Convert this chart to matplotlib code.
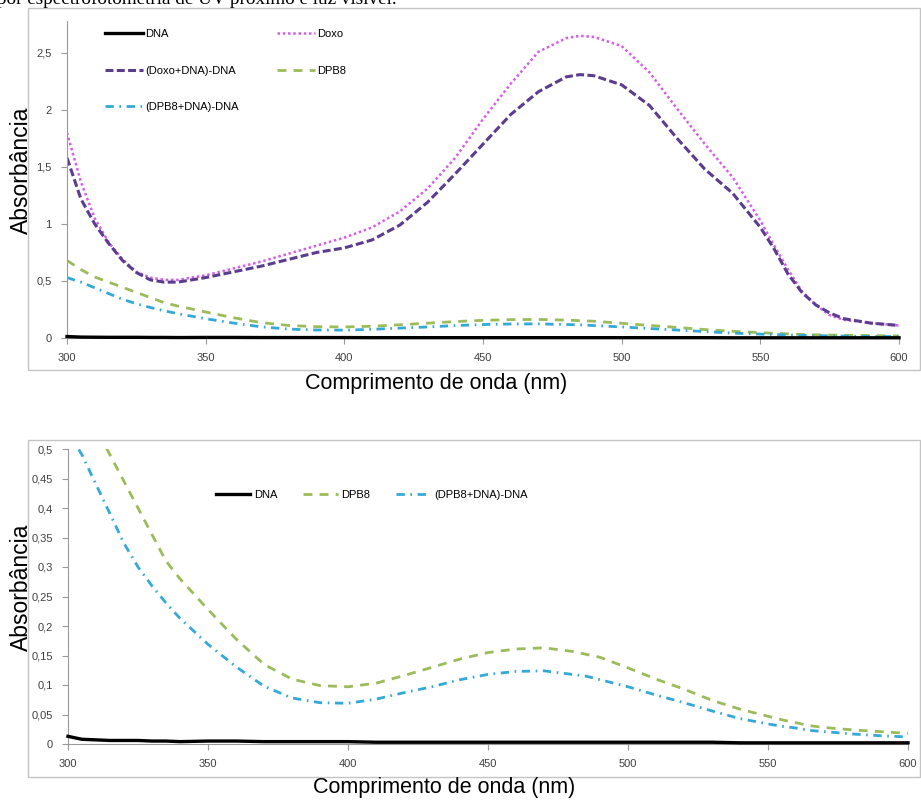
import matplotlib
matplotlib.use("Agg")
import matplotlib.pyplot as plt
from matplotlib.patches import Rectangle
from matplotlib.ticker import FuncFormatter

plt.rcParams['font.family'] = ['Liberation Sans', 'DejaVu Sans']

# wavelength (nm)
wl = [300, 305, 310, 315, 320, 325, 330, 335, 340, 350, 360, 370, 380, 390,
      400, 410, 420, 430, 440, 450, 460, 470, 480, 485, 490, 500, 510, 520,
      530, 540, 550, 555, 560, 565, 570, 575, 580, 590, 600]

dna = [0.013, 0.008, 0.007, 0.006, 0.006, 0.006, 0.005, 0.005, 0.004, 0.005,
       0.005, 0.004, 0.004, 0.004, 0.004, 0.003, 0.003, 0.003, 0.003, 0.003,
       0.003, 0.003, 0.003, 0.003, 0.003, 0.003, 0.003, 0.003, 0.003, 0.002,
       0.002, 0.002, 0.002, 0.002, 0.002, 0.002, 0.002, 0.002, 0.002]

doxo = [1.80, 1.37, 1.05, 0.84, 0.69, 0.58, 0.53, 0.51, 0.51, 0.55, 0.61,
        0.67, 0.74, 0.81, 0.88, 0.97, 1.11, 1.31, 1.58, 1.92, 2.23, 2.51,
        2.63, 2.65, 2.64, 2.56, 2.33, 2.01, 1.70, 1.41, 1.03, 0.81, 0.60,
        0.41, 0.29, 0.20, 0.16, 0.13, 0.11]

doxo_dna = [1.58, 1.22, 1.00, 0.83, 0.68, 0.575, 0.51, 0.49, 0.49, 0.53,
            0.58, 0.63, 0.69, 0.75, 0.79, 0.86, 0.99, 1.19, 1.44, 1.70, 1.96,
            2.16, 2.29, 2.31, 2.30, 2.22, 2.04, 1.75, 1.48, 1.27, 0.97, 0.78,
            0.56, 0.40, 0.29, 0.22, 0.17, 0.13, 0.11]

dpb8 = [0.68, 0.60, 0.535, 0.49, 0.445, 0.40, 0.355, 0.31, 0.28, 0.228,
        0.178, 0.135, 0.11, 0.099, 0.097, 0.103, 0.116, 0.130, 0.144, 0.155,
        0.161, 0.163, 0.157, 0.152, 0.147, 0.129, 0.11, 0.093, 0.074, 0.059,
        0.047, 0.041, 0.036, 0.031, 0.028, 0.026, 0.024, 0.021, 0.018]

dpb8_dna = [0.53, 0.49, 0.44, 0.39, 0.34, 0.30, 0.268, 0.239, 0.213, 0.169,
            0.131, 0.098, 0.078, 0.070, 0.069, 0.076, 0.087, 0.097, 0.109,
            0.118, 0.123, 0.124, 0.118, 0.115, 0.109, 0.097, 0.083, 0.070,
            0.056, 0.043, 0.034, 0.030, 0.027, 0.023, 0.021, 0.019, 0.017,
            0.014, 0.012]

W, H = 921, 801
fig = plt.figure(figsize=(W / 100, H / 100), dpi=100)

# cut-off caption line at the very top
fig.text(-3 / W, 1 - 4 / H, "por espectrofotometria de UV próximo e luz visível.",
         family='Liberation Serif', fontsize=13.8, va='baseline', ha='left')

# chart area borders
for y0, y1 in [(8, 370), (440, 777)]:
    fig.patches.append(Rectangle((28 / W, 1 - y1 / H), (920 - 28) / W, (y1 - y0) / H,
                                 transform=fig.transFigure, fill=False,
                                 ec='#c4c4c4', lw=1.0))

c_doxo = '#d45ee6'
c_doxodna = '#5a3d8e'
c_dpb8 = '#9cbb5a'
c_dpb8dna = '#34a9d8'

comma = FuncFormatter(lambda v, p: f"{v:g}".replace('.', ','))


def style_axes(ax):
    for s in ['top', 'right']:
        ax.spines[s].set_visible(False)
    for s in ['left', 'bottom']:
        ax.spines[s].set_color('#9a9a9a')
        ax.spines[s].set_linewidth(0.8)
    ax.tick_params(direction='out', length=4, width=0.8, color='#9a9a9a',
                   labelsize=8, labelcolor='#404040', pad=7)
    ax.set_xlim(300, 600)
    ax.set_xticks(range(300, 601, 50))
    ax.yaxis.set_major_formatter(comma)
    ax.set_facecolor('none')


# ---- top chart
ax1 = fig.add_axes([67 / W, 1 - 338 / H, 832 / W, 317 / H])
style_axes(ax1)
ax1.set_ylim(0, 2.78)
ax1.set_yticks([0, 0.5, 1, 1.5, 2, 2.5])

l_dna, = ax1.plot(wl, dna, color='black', lw=2.4, clip_on=False, zorder=5, label='DNA')
l_doxo, = ax1.plot(wl, doxo, color=c_doxo, lw=1.8, ls=(0, (1, 1.1)), label='Doxo')
l_dd, = ax1.plot(wl, doxo_dna, color=c_doxodna, lw=2.2, ls=(0, (2.6, 1.1)),
                 label='(Doxo+DNA)-DNA')
l_p, = ax1.plot(wl, dpb8, color=c_dpb8, lw=2.0, ls=(0, (3.2, 2.6)), label='DPB8')
l_pd, = ax1.plot(wl, dpb8_dna, color=c_dpb8dna, lw=2.0, ls=(0, (3, 2, 0.6, 2)),
                 label='(DPB8+DNA)-DNA')

fig.legend(handles=[l_dna, l_dd, l_pd, l_doxo, l_p], ncol=2, frameon=False,
           loc='upper left', bbox_to_anchor=(105 / W, 1 - 29 / H),
           borderpad=0, borderaxespad=0, fontsize=8, handlelength=3.4,
           handletextpad=0.25, labelspacing=2.4, columnspacing=3.4)

fig.text(436 / W, 1 - 383 / H, 'Comprimento de onda (nm)', fontsize=15.5,
         ha='center', va='center')
fig.text(21 / W, 1 - 170 / H, 'Absorbância', fontsize=16.5, rotation=90,
         ha='center', va='center')

# ---- bottom chart
ax2 = fig.add_axes([68 / W, 1 - 744 / H, 840 / W, 295 / H])
style_axes(ax2)
ax2.set_ylim(0, 0.5)
ax2.set_yticks([0, 0.05, 0.1, 0.15, 0.2, 0.25, 0.3, 0.35, 0.4, 0.45, 0.5])

b_dna, = ax2.plot(wl, dna, color='black', lw=2.4, clip_on=False, zorder=5, label='DNA')
b_p, = ax2.plot(wl, dpb8, color=c_dpb8, lw=2.0, ls=(0, (3.2, 2.6)), label='DPB8')
b_pd, = ax2.plot(wl, dpb8_dna, color=c_dpb8dna, lw=2.0, ls=(0, (3, 2, 0.6, 2)),
                 label='(DPB8+DNA)-DNA')

fig.legend(handles=[b_dna, b_p, b_pd], ncol=3, frameon=False,
           loc='upper left', bbox_to_anchor=(216 / W, 1 - 490 / H),
           borderpad=0, borderaxespad=0, fontsize=8, handlelength=3.1,
           handletextpad=0.35, columnspacing=2.3)

fig.text(444 / W, 1 - 788 / H, 'Comprimento de onda (nm)', fontsize=15.5,
         ha='center', va='center')
fig.text(21 / W, 1 - 587 / H, 'Absorbância', fontsize=16.5, rotation=90,
         ha='center', va='center')

fig.savefig('out.png', dpi=100)
